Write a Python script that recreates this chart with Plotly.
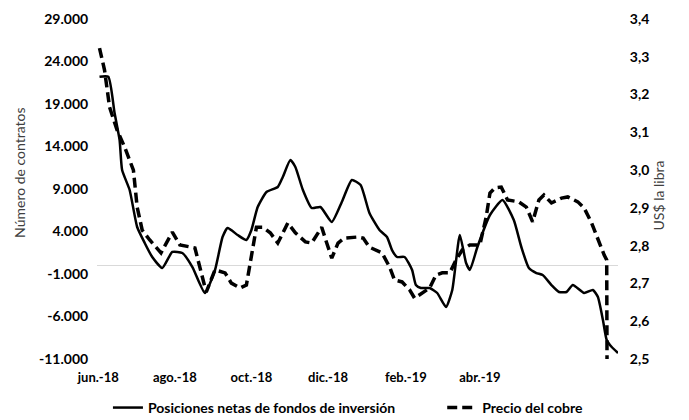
import plotly.graph_objects as go

# Posiciones netas de fondos de inversión (número de contratos)
pos_dates = [
    "2018-06-02", "2018-06-09", "2018-06-14", "2018-06-18", "2018-06-20", "2018-06-26",
    "2018-07-02", "2018-07-08", "2018-07-14", "2018-07-22", "2018-07-30", "2018-08-07",
    "2018-08-15", "2018-08-25", "2018-09-02", "2018-09-08", "2018-09-12", "2018-09-20",
    "2018-09-27", "2018-10-01", "2018-10-06", "2018-10-13", "2018-10-22", "2018-10-26",
    "2018-11-01", "2018-11-05", "2018-11-11", "2018-11-18", "2018-11-25", "2018-12-04",
    "2018-12-12", "2018-12-20", "2018-12-27", "2019-01-03", "2019-01-11", "2019-01-17",
    "2019-01-21", "2019-01-25", "2019-01-31", "2019-02-06", "2019-02-09", "2019-02-13",
    "2019-02-20", "2019-02-26", "2019-03-05", "2019-03-10", "2019-03-16", "2019-03-21",
    "2019-03-24", "2019-03-30", "2019-04-09", "2019-04-19", "2019-04-28", "2019-05-04",
    "2019-05-10", "2019-05-16", "2019-05-21", "2019-05-28", "2019-06-03", "2019-06-09",
    "2019-06-14", "2019-06-23", "2019-06-30", "2019-07-04", "2019-07-08", "2019-07-11",
    "2019-07-15", "2019-07-20",
]
pos_values = [
    22200, 22200, 17940, 14765, 11235, 8880,
    4530, 2650, 1000, -294, 1590, 1470,
    -180, -3235, -530, 3350, 4410, 3590,
    3000, 4180, 6880, 8650, 9235, 10410,
    12410, 11590, 8880, 6765, 6880, 5120,
    7470, 10060, 9470, 6176, 4176, 3350,
    1820, 1000, 1000, -530, -2295, -2650,
    -2650, -3235, -4880, -2880, 3590, 290,
    -530, 2176, 5940, 7706, 5350, 2176,
    -295, -883, -1118, -2295, -3118, -3118,
    -2295, -3235, -2880, -3706, -6412, -8765,
    -9590, -10295,
]

# Precio del cobre (US$ la libra)
cu_dates = [
    "2018-06-02", "2018-06-06", "2018-06-10", "2018-06-16", "2018-06-22", "2018-06-29",
    "2018-07-02", "2018-07-06", "2018-07-12", "2018-07-21", "2018-07-30", "2018-08-05",
    "2018-08-17", "2018-08-22", "2018-08-26", "2018-09-02", "2018-09-10", "2018-09-15",
    "2018-09-22", "2018-09-27", "2018-10-01", "2018-10-05", "2018-10-10", "2018-10-16",
    "2018-10-22", "2018-10-30", "2018-11-05", "2018-11-13", "2018-11-18", "2018-11-26",
    "2018-11-30", "2018-12-04", "2018-12-09", "2018-12-14", "2018-12-25", "2018-12-29",
    "2019-01-03", "2019-01-13", "2019-01-19", "2019-01-23", "2019-01-29", "2019-02-04",
    "2019-02-08", "2019-02-14", "2019-02-20", "2019-02-25", "2019-03-02", "2019-03-08",
    "2019-03-13", "2019-03-18", "2019-03-24", "2019-04-01", "2019-04-06", "2019-04-09",
    "2019-04-13", "2019-04-18", "2019-04-23", "2019-05-02", "2019-05-08", "2019-05-13",
    "2019-05-18", "2019-05-22", "2019-05-28", "2019-06-05", "2019-06-10", "2019-06-18",
    "2019-06-23", "2019-06-29", "2019-07-04", "2019-07-09", "2019-07-11", "2019-07-11 06:00",
]
cu_values = [
    3.323, 3.265, 3.167, 3.106, 3.061, 3.000,
    2.902, 2.841, 2.815, 2.781, 2.836, 2.802,
    2.794, 2.728, 2.677, 2.736, 2.728, 2.701,
    2.688, 2.696, 2.770, 2.849, 2.849, 2.834,
    2.807, 2.860, 2.834, 2.810, 2.807, 2.849,
    2.807, 2.767, 2.807, 2.820, 2.823, 2.820,
    2.796, 2.781, 2.744, 2.709, 2.704, 2.683,
    2.661, 2.675, 2.688, 2.722, 2.728, 2.728,
    2.762, 2.789, 2.802, 2.802, 2.876, 2.939,
    2.953, 2.955, 2.921, 2.916, 2.902, 2.863,
    2.921, 2.934, 2.913, 2.926, 2.929, 2.916,
    2.900, 2.860, 2.815, 2.775, 2.762, 2.500,
]

left_tickvals = [-11000, -6000, -1000, 4000, 9000, 14000, 19000, 24000, 29000]
left_ticktext = ["-11.000", "-6.000", "-1.000", "4.000", "9.000", "14.000", "19.000", "24.000", "29.000"]
right_tickvals = [2.5, 2.6, 2.7, 2.8, 2.9, 3.0, 3.1, 3.2, 3.3, 3.4]
right_ticktext = ["2,5", "2,6", "2,7", "2,8", "2,9", "3,0", "3,1", "3,2", "3,3", "3,4"]
x_tickvals = ["2018-06-01", "2018-08-01", "2018-10-01", "2018-12-01", "2019-02-01", "2019-04-01"]
x_ticktext = ["jun.-18", "ago.-18", "oct.-18", "dic.-18", "feb.-19", "abr.-19"]

FONT = "Lato"
GAP = "\u2003\u2003\u2003\u2003"  # visual spacing between legend entries

fig = go.Figure()
fig.add_trace(go.Scatter(
    x=pos_dates, y=pos_values, mode="lines",
    name="Posiciones netas de fondos de inversión" + GAP,
    line=dict(color="black", width=2.5, shape="spline", smoothing=0.5),
    yaxis="y",
))
fig.add_trace(go.Scatter(
    x=cu_dates, y=cu_values, mode="lines",
    name="Precio del cobre",
    line=dict(color="black", width=3.5, dash="10px,5px"),
    yaxis="y2",
))

# the page body adds an 8px offset, so the figure is 8px smaller
fig.update_layout(
    width=681, height=412,
    margin=dict(l=89, r=71, t=11, b=61, autoexpand=False),
    paper_bgcolor="white", plot_bgcolor="white",
    font=dict(family=FONT, color="black"),
    showlegend=True,
    legend=dict(
        orientation="h", x=0.021, xanchor="left", y=-0.144, yanchor="middle",
        font=dict(family=FONT, size=14, color="black", weight="bold"),
    ),
    xaxis=dict(
        type="date", range=["2018-05-31", "2019-07-20"],
        tickvals=x_tickvals, ticktext=x_ticktext,
        showgrid=False, zeroline=False, showline=False,
        ticks="outside", ticklen=6, tickcolor="rgba(0,0,0,0)",
        tickfont=dict(family=FONT, size=13, color="black", weight="bold"),
    ),
    yaxis=dict(
        range=[-11000, 29000],
        tickvals=left_tickvals, ticktext=left_ticktext,
        showgrid=False, showline=False,
        zeroline=True, zerolinecolor="#d9d9d9", zerolinewidth=1,
        ticks="outside", ticklen=5, tickcolor="rgba(0,0,0,0)",
        tickfont=dict(family=FONT, size=14, color="black", weight="bold"),
    ),
    yaxis2=dict(
        range=[2.5, 3.4], overlaying="y", side="right",
        tickvals=right_tickvals, ticktext=right_ticktext,
        showgrid=False, showline=False, zeroline=False,
        ticks="outside", ticklen=8, tickcolor="rgba(0,0,0,0)",
        tickfont=dict(family=FONT, size=14, color="black", weight="bold"),
    ),
    annotations=[
        dict(text="Número de contratos", xref="paper", yref="paper",
             x=-0.148, y=0.55, textangle=-90, showarrow=False,
             xanchor="center", yanchor="middle",
             font=dict(family=FONT, size=14, color="#404040")),
        dict(text="US$ la libra", xref="paper", yref="paper",
             x=1.078, y=0.48, textangle=-90, showarrow=False,
             xanchor="center", yanchor="middle",
             font=dict(family=FONT, size=14, color="#404040")),
    ],
)

fig.write_html("out.html")
